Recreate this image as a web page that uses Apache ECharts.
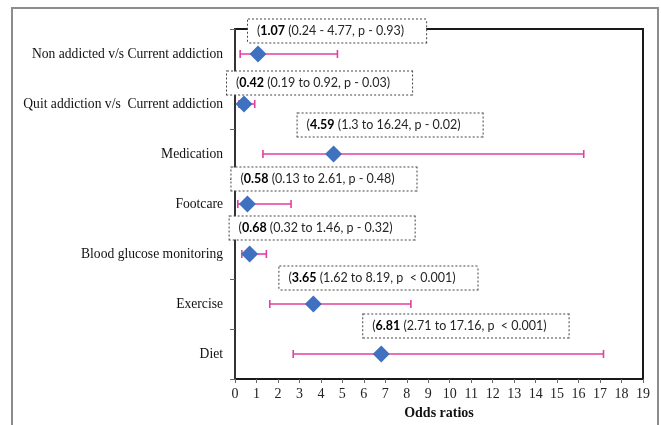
<!DOCTYPE html>
<html>
<head>
<meta charset="utf-8">
<script src="https://cdn.jsdelivr.net/npm/echarts@6/dist/echarts.min.js"></script>
<style>
  html, body { margin: 0; padding: 0; background: #fff; }
  #chart { width: 661px; height: 425px; }
</style>
</head>
<body>
<div id="chart"></div>
<script>
// rows, top to bottom
const categories = [
  'Non addicted v/s Current addiction',
  'Quit addiction v/s  Current addiction',
  'Medication',
  'Footcare',
  'Blood glucose monitoring',
  'Exercise',
  'Diet'
]
const oddsRatio = [1.07, 0.42, 4.59, 0.58, 0.68, 3.65, 6.81]
const ciLow = [0.24, 0.19, 1.3, 0.13, 0.32, 1.62, 2.71]
const ciHigh = [4.77, 0.92, 16.24, 2.61, 1.46, 8.19, 17.16]
const ciSep = [' - ', ' to ', ' to ', ' to ', ' to ', ' to ', ' to ']
const pText = ['p - 0.93', 'p - 0.03', 'p - 0.02', 'p - 0.48', 'p - 0.32', 'p  < 0.001', 'p  < 0.001']
const xTicks = { min: 0, max: 19, interval: 1 }

// where each annotation box sits relative to its diamond (px)
const boxOffset = [[-10, -23], [-17, -21], [-36, -29], [-16, -25], [-20, -26], [-34, -26], [-18, -28]]

const serif = '"Liberation Serif", "DejaVu Serif", serif'
const sans = 'Lato, "Open Sans", sans-serif'
const chart = echarts.init(document.getElementById('chart'))

chart.setOption({
  animation: false,
  grid: {
    left: 235,
    right: 18,
    top: 29,
    bottom: 46,
    show: true,
    borderColor: '#1a1a1a',
    borderWidth: 2
  },
  graphic: [{
    type: 'rect',
    shape: { x: 12, y: 8, width: 646, height: 440 },
    style: { fill: 'none', stroke: '#8c8c8c', lineWidth: 2 },
    silent: true,
    z: 0
  }],
  xAxis: {
    type: 'value',
    min: xTicks.min,
    max: xTicks.max,
    interval: xTicks.interval,
    name: 'Odds ratios',
    nameLocation: 'middle',
    nameGap: 27,
    nameTextStyle: { fontFamily: serif, fontWeight: 'bold', fontSize: 14, color: '#111' },
    axisLine: { lineStyle: { color: '#333', width: 2 } },
    axisTick: { show: true, length: 4, lineStyle: { color: '#666' } },
    axisLabel: { fontFamily: serif, fontSize: 14, color: '#222', margin: 8 },
    splitLine: { show: false }
  },
  yAxis: {
    type: 'category',
    data: categories,
    inverse: true,
    axisLine: { lineStyle: { color: '#333', width: 2 } },
    axisTick: { show: true, length: 5, lineStyle: { color: '#666' } },
    axisLabel: { fontFamily: serif, fontSize: 13.6, color: '#111', margin: 12 },
    splitLine: { show: false }
  },
  series: [
    {
      type: 'custom',
      data: categories.map((c, i) => [i, ciLow[i], ciHigh[i]]),
      renderItem(params, api) {
        const row = api.value(0)
        const a = api.coord([api.value(1), row])
        const b = api.coord([api.value(2), row])
        const h = 4
        const style = { stroke: '#e0409f', lineWidth: 1.6 }
        return {
          type: 'group',
          children: [
            { type: 'line', shape: { x1: a[0], y1: a[1], x2: b[0], y2: b[1] }, style },
            { type: 'line', shape: { x1: a[0], y1: a[1] - h, x2: a[0], y2: a[1] + h }, style },
            { type: 'line', shape: { x1: b[0], y1: b[1] - h, x2: b[0], y2: b[1] + h }, style }
          ]
        }
      },
      z: 2
    },
    {
      type: 'scatter',
      symbol: 'diamond',
      symbolSize: [17, 17],
      itemStyle: { color: '#4070c0', opacity: 1 },
      data: oddsRatio.map((v, i) => ({
        value: [v, i],
        label: {
          show: true,
          position: 'inside',
          align: 'left',
          verticalAlign: 'middle',
          offset: boxOffset[i],
          formatter: '({b|' + v.toFixed(2) + '} (' + ciLow[i] + ciSep[i] + ciHigh[i] + ', ' + pText[i] + ')'
        }
      })),
      label: {
        fontFamily: sans,
        fontSize: 12.5,
        color: '#262626',
        backgroundColor: '#fff',
        borderColor: '#444',
        borderWidth: 1,
        borderType: 'dotted',
        padding: [5, 22, 5, 9],
        rich: {
          b: { fontFamily: sans, fontSize: 12.5, fontWeight: 'bold', color: '#000' }
        }
      },
      z: 3
    }
  ]
})
</script>
</body>
</html>
